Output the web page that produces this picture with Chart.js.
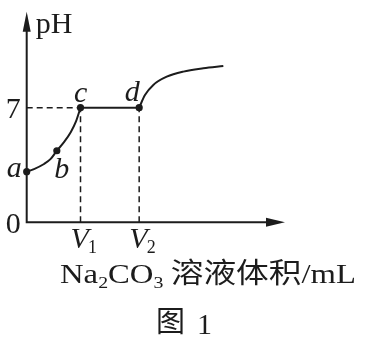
<!DOCTYPE html>
<html><head><meta charset="utf-8">
<script src="https://cdn.jsdelivr.net/npm/chart.js@4"></script>
<style>html,body{margin:0;padding:0;background:#fff;}#wrap{width:365px;height:341px;}</style>
</head><body>
<div id="wrap"><canvas id="c" width="365" height="341"></canvas></div>
<script>
// ---- data ----
const curveACx = [0, 1.36, 3.22, 4.46, 5.6, 6.93, 8.18, 9.1, 10];
const curveACy = [3.09, 3.25, 3.56, 3.87, 4.37, 4.89, 5.5, 6.11, 7];
const flatX = [10, 20.9];
const flatY = [7, 7];
const curveDx = [20.9, 21.98, 23.53, 26.02, 29.1, 32.82, 36.54];
const curveDy = [7, 7.77, 8.39, 8.89, 9.2, 9.4, 9.54];
const pointNames = ['a', 'b', 'c', 'd'];
const pointX = [0, 5.6, 10, 20.9];
const pointY = [3.09, 4.37, 7, 7];
const V1 = 10, V2 = 20.9, pH7 = 7;
const yTickValues = [0, 7];
const yTickLabels = ['0', '7'];
const xTickValues = [V1, V2];
const xTickSubs = ['1', '2'];
const yTitle = 'pH';
const xTitleParts = ['Na', '2', 'CO', '3', ' 溶液体积', '/mL'];
const caption = ['图', '1'];

const xy = (xs, ys) => xs.map((x, i) => ({x, y: ys[i]}));
const INK = '#1c1c1c';
const SERIF = '"Liberation Serif", "Noto Sans CJK SC", serif';
const CJK = '"Noto Sans CJK SC", sans-serif';

const labelPlugin = {
  id: 'labels',
  afterDraw(chart) {
    const ctx = chart.ctx, xs = chart.scales.x, ys = chart.scales.y;
    const x0 = xs.getPixelForValue(0), y0 = ys.getPixelForValue(0);
    const xEnd = xs.right, yTop = ys.top;
    ctx.save();
    ctx.strokeStyle = INK; ctx.fillStyle = INK; ctx.lineWidth = 2;
    // axes
    ctx.beginPath();
    ctx.moveTo(x0, y0 + 1); ctx.lineTo(x0, yTop + 12);
    ctx.moveTo(x0 - 1, y0); ctx.lineTo(xEnd - 12, y0);
    ctx.stroke();
    // arrow heads
    ctx.beginPath();
    ctx.moveTo(x0, yTop); ctx.lineTo(x0 - 4, yTop + 20); ctx.lineTo(x0 + 4, yTop + 20); ctx.closePath(); ctx.fill();
    ctx.beginPath();
    ctx.moveTo(xEnd, y0); ctx.lineTo(xEnd - 19, y0 - 4.5); ctx.lineTo(xEnd - 19, y0 + 4.5); ctx.closePath(); ctx.fill();
    // y title
    ctx.font = '30px ' + SERIF; ctx.textAlign = 'left'; ctx.textBaseline = 'alphabetic';
    ctx.fillText(yTitle, x0 + 9, yTop + 21.5);
    // y ticks
    ctx.textAlign = 'right';
    yTickValues.forEach((v, i) => ctx.fillText(yTickLabels[i], x0 - 6, ys.getPixelForValue(v) + 10.5));
    // x tick labels (V with subscript)
    ctx.textAlign = 'left';
    xTickValues.forEach((v, i) => {
      const px = xs.getPixelForValue(v);
      ctx.font = 'italic 30px ' + SERIF;
      ctx.fillText('V', px - 10, y0 + 26);
      ctx.font = '18px ' + SERIF;
      ctx.fillText(xTickSubs[i], px + 7.5, y0 + 31);
    });
    // point labels
    ctx.font = 'italic 30px ' + SERIF;
    const offs = [[-20, 5, 'left'], [-2.5, 27.5, 'left'], [-6.5, -6, 'left'], [-14.5, -6.5, 'left']];
    pointNames.forEach((n, i) => {
      const px = xs.getPixelForValue(pointX[i]), py = ys.getPixelForValue(pointY[i]);
      ctx.textAlign = offs[i][2];
      ctx.fillText(n, px + offs[i][0], py + offs[i][1]);
    });
    // x title, stretched to fit
    const segs = [
      [xTitleParts[0], '28px ' + SERIF, 0],
      [xTitleParts[1], '17px ' + SERIF, 5],
      [xTitleParts[2], '28px ' + SERIF, 0],
      [xTitleParts[3], '17px ' + SERIF, 5],
      [xTitleParts[4], '28px ' + CJK, 0],
      [xTitleParts[5], '28px ' + SERIF, 0]
    ];
    let total = 0;
    segs.forEach(s => { ctx.font = s[1]; s.push(ctx.measureText(s[0]).width); total += s[3]; });
    const left = 60, right = 356, base = y0 + 61;
    const sx = (right - left) / total;
    ctx.save();
    ctx.translate(left, base); ctx.scale(sx, 1);
    let cx = 0;
    ctx.textAlign = 'left';
    segs.forEach(s => { ctx.font = s[1]; ctx.fillText(s[0], cx, s[2]); cx += s[3]; });
    ctx.restore();
    // caption
    ctx.font = '29px ' + CJK; ctx.fillText(caption[0], 156, y0 + 110);
    ctx.font = '30px ' + SERIF; ctx.fillText(caption[1], 197, y0 + 112);
    ctx.restore();
  }
};

const solid = {borderColor: INK, borderWidth: 2, pointRadius: 0, showLine: true, fill: false, clip: false};
const dashed = {borderColor: INK, borderWidth: 1.5, borderDash: [6, 4], pointRadius: 0, showLine: true, fill: false, clip: false, tension: 0};

new Chart(document.getElementById('c'), {
  type: 'scatter',
  data: {
    datasets: [
      Object.assign({data: [{x: 0, y: pH7}, {x: V1, y: pH7}]}, dashed),
      Object.assign({data: [{x: V1, y: 0}, {x: V1, y: pH7}]}, dashed),
      Object.assign({data: [{x: V2, y: 0}, {x: V2, y: pH7}]}, dashed),
      Object.assign({data: xy(curveACx, curveACy), cubicInterpolationMode: 'monotone'}, solid),
      Object.assign({data: xy(flatX, flatY), tension: 0}, solid),
      Object.assign({data: xy(curveDx, curveDy), cubicInterpolationMode: 'monotone'}, solid),
      {data: xy(pointX, pointY), showLine: false, pointRadius: 3.6, pointBackgroundColor: INK, pointBorderColor: INK, pointBorderWidth: 0, clip: false}
    ]
  },
  options: {
    responsive: false, animation: false, devicePixelRatio: 1,
    layout: {padding: {left: 26.7, top: 11.7, right: 80, bottom: 118.7}},
    plugins: {legend: {display: false}, tooltip: {enabled: false}},
    scales: {
      x: {type: 'linear', min: 0, max: 48, display: false},
      y: {type: 'linear', min: 0, max: 12.86, display: false}
    }
  },
  plugins: [labelPlugin]
});
</script>
</body></html>
